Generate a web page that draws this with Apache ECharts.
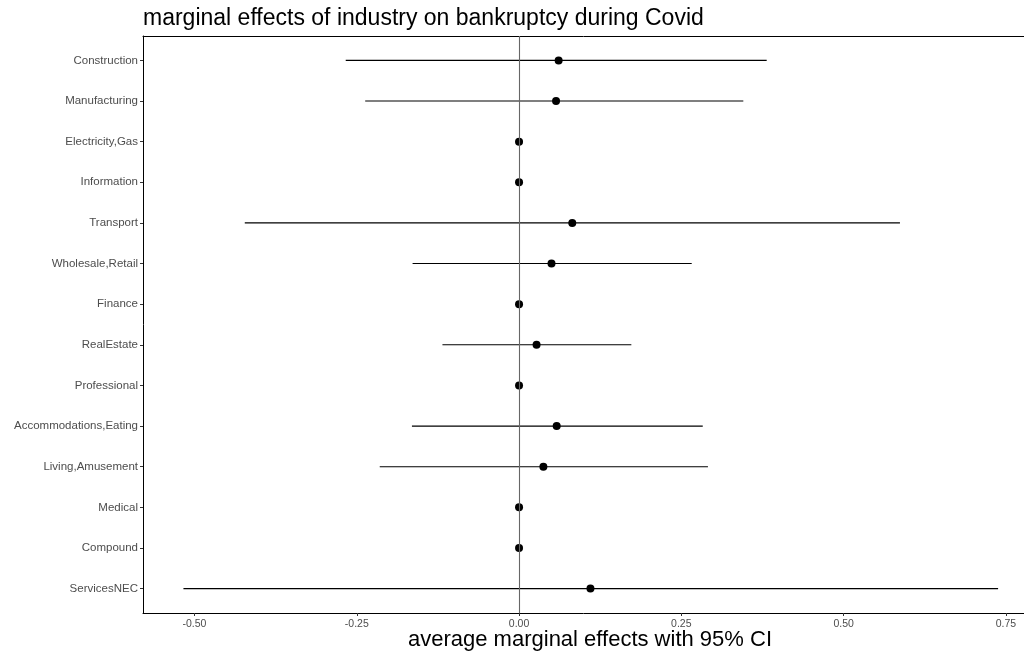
<!DOCTYPE html>
<html>
<head>
<meta charset="utf-8">
<script src="https://cdn.jsdelivr.net/npm/echarts@6/dist/echarts.min.js"></script>
<style>html,body{margin:0;padding:0;background:#fff}#c{width:1024px;height:654px}</style>
</head>
<body>
<div id="c"></div>
<script>
const categories = ["Construction","Manufacturing","Electricity,Gas","Information","Transport","Wholesale,Retail","Finance","RealEstate","Professional","Accommodations,Eating","Living,Amusement","Medical","Compound","ServicesNEC"];
const estimates = [0.061, 0.057, 0, 0, 0.082, 0.050, 0, 0.027, 0, 0.058, 0.0375, 0, 0, 0.110];
const lowerCI   = [-0.267, -0.237, 0, 0, -0.4225, -0.164, 0, -0.118, 0, -0.165, -0.2146, 0, 0, -0.517];
const upperCI   = [0.3815, 0.3455, 0, 0, 0.5868, 0.266, 0, 0.173, 0, 0.283, 0.291, 0, 0, 0.738];
const xTicks = [-0.5, -0.25, 0, 0.25, 0.5, 0.75];

const idx = categories.map((_, i) => i);
const barData = idx.map(i => [lowerCI[i], upperCI[i], i]);
const pointData = idx.map(i => [estimates[i], i]);

const XMIN = -0.5793, XMAX = 0.7779;
const chart = echarts.init(document.getElementById('c'), null, {renderer: 'canvas'});
chart.setOption({
  animation: false,
  backgroundColor: '#ffffff',
  title: [{
    text: 'marginal effects of industry on bankruptcy during Covid',
    left: 143, top: 7, padding: 0,
    textStyle: {fontFamily: 'Liberation Sans', fontSize: 23, fontWeight: 'normal', color: '#000'}
  }, {
    text: 'average marginal effects with 95% CI',
    left: 408, top: 629, padding: 0,
    textStyle: {fontFamily: 'Liberation Sans', fontSize: 22, fontWeight: 'normal', color: '#000'}
  }],
  grid: {left: 143, right: 0, top: 36, bottom: 41, containLabel: false, outerBoundsMode: 'none'},
  xAxis: [{
    type: 'value', min: XMIN, max: XMAX, position: 'bottom',
    splitLine: {show: false},
    axisLine: {show: true, onZero: false, lineStyle: {color: '#000', width: 1}},
    axisTick: {show: true, length: 3, customValues: xTicks, lineStyle: {color: '#333'}},
    axisLabel: {customValues: xTicks, formatter: v => v.toFixed(2), fontFamily: 'Liberation Sans', fontSize: 10.5, color: '#4D4D4D', margin: 6}
  }, {
    type: 'value', min: XMIN, max: XMAX, position: 'top',
    splitLine: {show: false},
    axisLine: {show: true, onZero: false, lineStyle: {color: '#000', width: 1}},
    axisTick: {show: false}, axisLabel: {show: false}
  }],
  yAxis: {
    type: 'value', min: -0.6, max: 13.6, inverse: true,
    splitLine: {show: false},
    axisLine: {show: true, onZero: false, lineStyle: {color: '#000', width: 1}},
    axisTick: {show: true, length: 3, customValues: idx, lineStyle: {color: '#333'}},
    axisLabel: {customValues: idx, formatter: v => categories[Math.round(v)] || '', fontFamily: 'Liberation Sans', fontSize: 11.5, color: '#4D4D4D', margin: 5}
  },
  series: [{
    type: 'custom',
    data: barData,
    encode: {x: [0, 1], y: 2},
    renderItem: function (params, api) {
      const a = api.coord([api.value(0), api.value(2)]);
      const b = api.coord([api.value(1), api.value(2)]);
      return {type: 'line', shape: {x1: a[0], y1: a[1], x2: b[0], y2: b[1]}, style: {stroke: '#000', lineWidth: 1.1}};
    },
    markLine: {
      silent: true, symbol: 'none', label: {show: false},
      lineStyle: {color: '#666', width: 1.1, type: 'solid'},
      data: [{xAxis: 0}]
    },
    z: 2
  }, {
    type: 'scatter',
    data: pointData,
    symbol: 'circle', symbolSize: 8,
    itemStyle: {color: '#000', opacity: 1},
    z: 3
  }]
});
</script>
</body>
</html>
